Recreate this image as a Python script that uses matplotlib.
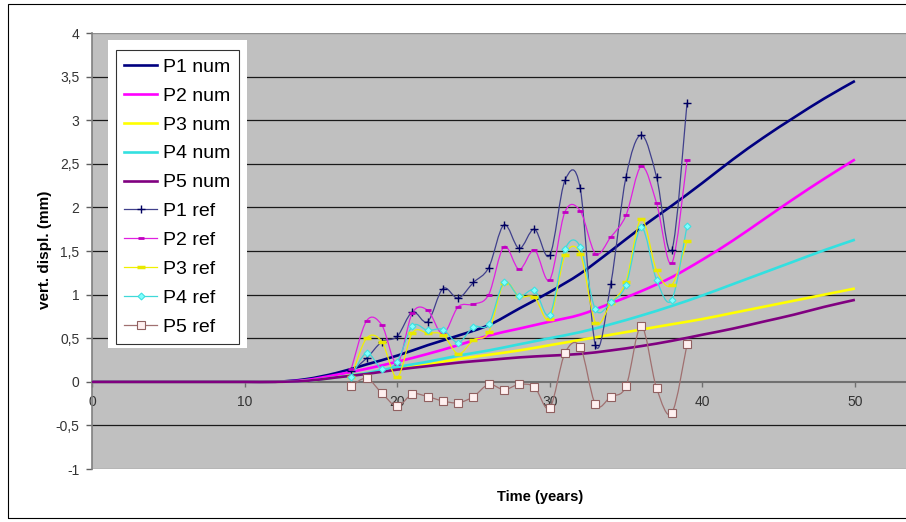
import numpy as np
import matplotlib.pyplot as plt
from matplotlib.path import Path
from matplotlib.patches import PathPatch, Rectangle
from matplotlib.lines import Line2D
from matplotlib.ticker import MultipleLocator, FuncFormatter

plt.rcParams['font.family'] = ['Liberation Sans', 'DejaVu Sans']

# numerical results, every 2 years
t_num = [0, 2, 4, 6, 8, 10, 12, 14, 16, 18, 20, 22, 24, 26, 28, 30, 32, 34, 36, 38, 40, 42, 44, 46, 48, 50]
p1_num = [0, 0, 0, 0, 0, 0, 0, 0.03, 0.1, 0.2, 0.3, 0.42, 0.53, 0.65, 0.84, 1.03, 1.24, 1.5, 1.77, 2.02, 2.28, 2.55, 2.8, 3.03, 3.25, 3.45]
p2_num = [0, 0, 0, 0, 0, 0, 0, 0.02, 0.08, 0.15, 0.23, 0.32, 0.42, 0.53, 0.61, 0.69, 0.77, 0.9, 1.04, 1.2, 1.4, 1.62, 1.86, 2.1, 2.33, 2.55]
p3_num = [0, 0, 0, 0, 0, 0, 0, 0.01, 0.05, 0.1, 0.15, 0.2, 0.26, 0.31, 0.36, 0.42, 0.48, 0.54, 0.6, 0.66, 0.72, 0.79, 0.86, 0.93, 1.0, 1.07]
p4_num = [0, 0, 0, 0, 0, 0, 0, 0.01, 0.05, 0.1, 0.17, 0.23, 0.3, 0.36, 0.43, 0.5, 0.57, 0.66, 0.76, 0.87, 0.99, 1.12, 1.25, 1.38, 1.51, 1.63]
p5_num = [0, 0, 0, 0, 0, 0, 0, 0.01, 0.05, 0.09, 0.14, 0.18, 0.22, 0.25, 0.28, 0.3, 0.32, 0.36, 0.41, 0.47, 0.54, 0.61, 0.69, 0.77, 0.86, 0.94]

# reference measurements, yearly
t_ref = [17, 18, 19, 20, 21, 22, 23, 24, 25, 26, 27, 28, 29, 30, 31, 32, 33, 34, 35, 36, 37, 38, 39]
p1_ref = [0.12, 0.27, 0.46, 0.52, 0.8, 0.69, 1.07, 0.96, 1.14, 1.31, 1.8, 1.53, 1.75, 1.45, 2.31, 2.22, 0.42, 1.12, 2.35, 2.83, 2.35, 1.51, 3.2]
p2_ref = [0.15, 0.7, 0.65, 0.21, 0.79, 0.82, 0.55, 0.86, 0.89, 1.0, 1.55, 1.29, 1.51, 1.17, 1.95, 1.96, 1.47, 1.66, 1.91, 2.47, 2.05, 1.36, 2.54]
p3_ref = [0.06, 0.5, 0.46, 0.05, 0.56, 0.56, 0.54, 0.32, 0.48, 0.57, 1.13, 0.98, 0.97, 0.72, 1.45, 1.47, 0.68, 0.9, 1.15, 1.87, 1.28, 1.11, 1.62]
p4_ref = [0.06, 0.33, 0.15, 0.23, 0.64, 0.59, 0.6, 0.45, 0.63, 0.66, 1.14, 0.98, 1.05, 0.77, 1.52, 1.55, 0.83, 0.91, 1.11, 1.77, 1.17, 0.94, 1.79]
p5_ref = [-0.05, 0.04, -0.13, -0.28, -0.14, -0.17, -0.22, -0.24, -0.17, -0.03, -0.09, -0.03, -0.06, -0.3, 0.33, 0.4, -0.26, -0.17, -0.05, 0.64, -0.07, -0.36, 0.43]


def smooth_path(x, y):
    # Excel-like smoothed line: cubic bezier through the points
    pts = np.column_stack([x, y]).astype(float)
    n = len(pts)
    verts = [pts[0]]
    codes = [Path.MOVETO]
    for i in range(n - 1):
        p0 = pts[i - 1] if i > 0 else pts[i]
        p1, p2 = pts[i], pts[i + 1]
        p3 = pts[i + 2] if i + 2 < n else pts[i + 1]
        verts += [p1 + (p2 - p0) / 6, p2 - (p3 - p1) / 6, p2]
        codes += [Path.CURVE4] * 3
    return Path(verts, codes)


fig = plt.figure(figsize=(9.06, 5.22), dpi=100)
ax = fig.add_axes([0.1015, 0.1015, 0.8985, 0.8352])
ax.set_facecolor('#c0c0c0')

# outer chart border
fig.patches.append(Rectangle((8 / 906, 4 / 522), 1.2, 514 / 522, transform=fig.transFigure,
                             fill=False, edgecolor='black', lw=0.8, zorder=0))

num_series = [
    ('P1 num', p1_num, '#000080'),
    ('P2 num', p2_num, '#ff00ff'),
    ('P3 num', p3_num, '#ffff00'),
    ('P4 num', p4_num, '#33e0e0'),
    ('P5 num', p5_num, '#800080'),
]
handles = []
for lab, vals, col in num_series:
    ax.add_patch(PathPatch(smooth_path(t_num, vals), facecolor='none', edgecolor=col, lw=1.9, zorder=3))
    handles.append(Line2D([], [], color=col, lw=1.9, label=lab))

ref_series = [
    ('P1 ref', p1_ref, '#40408c', dict(marker='+', ms=6, mec='#000060', mew=1.0)),
    ('P2 ref', p2_ref, '#e020e0', dict(marker='_', ms=5, mec='#c000c0', mew=2.0)),
    ('P3 ref', p3_ref, '#f0f000', dict(marker='_', ms=6, mec='#e8e800', mew=2.5)),
    ('P4 ref', p4_ref, '#40d8d8', dict(marker='D', ms=3.5, mfc='#80ffff', mec='#40e0e0', mew=0.8)),
    ('P5 ref', p5_ref, '#a07070', dict(marker='s', ms=5.5, mfc='#fff0f0', mec='#906060', mew=0.8)),
]
for lab, vals, col, mk in ref_series:
    ax.add_patch(PathPatch(smooth_path(t_ref, vals), facecolor='none', edgecolor=col, lw=0.9, zorder=4))
    ax.plot(t_ref, vals, ls='none', zorder=4.2, **mk)
    handles.append(Line2D([], [], color=col, lw=0.9, label=lab, **mk))

ax.set_xlim(0, 53.35)
ax.set_ylim(-1, 4)

# horizontal gridlines
for g in [-0.5, 0.5, 1, 1.5, 2, 2.5, 3, 3.5]:
    ax.axhline(g, color='#1a1a1a', lw=0.9, zorder=1)
ax.axhline(-1, color='#909090', lw=1.0, zorder=1)
ax.axhline(4, color='#909090', lw=1.0, zorder=1)

for s in ['top', 'right']:
    ax.spines[s].set_visible(False)
ax.spines['bottom'].set_position(('data', 0))
ax.spines['bottom'].set_color('#707070')
ax.spines['bottom'].set_linewidth(1.5)
ax.spines['bottom'].set_zorder(2)
ax.spines['left'].set_color('#808080')
ax.spines['left'].set_linewidth(1.2)

ax.xaxis.set_major_locator(MultipleLocator(10))
ax.yaxis.set_major_locator(MultipleLocator(0.5))
ax.yaxis.set_major_formatter(FuncFormatter(lambda v, p: ('%g' % v).replace('.', ',')))
ax.tick_params(axis='x', direction='out', length=3.5, width=1, color='#707070',
               labelsize=10, labelcolor='#333333', pad=6)
ax.tick_params(axis='y', direction='out', length=4, width=1, color='#606060',
               labelsize=10, labelcolor='#333333', pad=5)

fig.text(45 / 906, 1 - 250 / 522, 'vert. displ. (mm)', rotation=90, ha='center', va='center',
         fontsize=11, fontweight='bold')
fig.text(540 / 906, 1 - 497 / 522, 'Time (years)', ha='center', va='center',
         fontsize=10.5, fontweight='bold')

# white area behind the legend
ax.add_patch(Rectangle((0.0197, 0.2775), 0.1707, 0.7065, transform=ax.transAxes,
                       facecolor='white', edgecolor='none', zorder=6))
leg = ax.legend(handles=handles, loc='upper left', bbox_to_anchor=(0.0295, 0.961),
                borderaxespad=0, fontsize=14, frameon=True, fancybox=False,
                handlelength=1.7, handletextpad=0.3, labelspacing=0.58, borderpad=0.42)
leg.get_frame().set_edgecolor('black')
leg.get_frame().set_linewidth(0.8)
leg.set_zorder(7)

fig.savefig('out.png', dpi=100)
